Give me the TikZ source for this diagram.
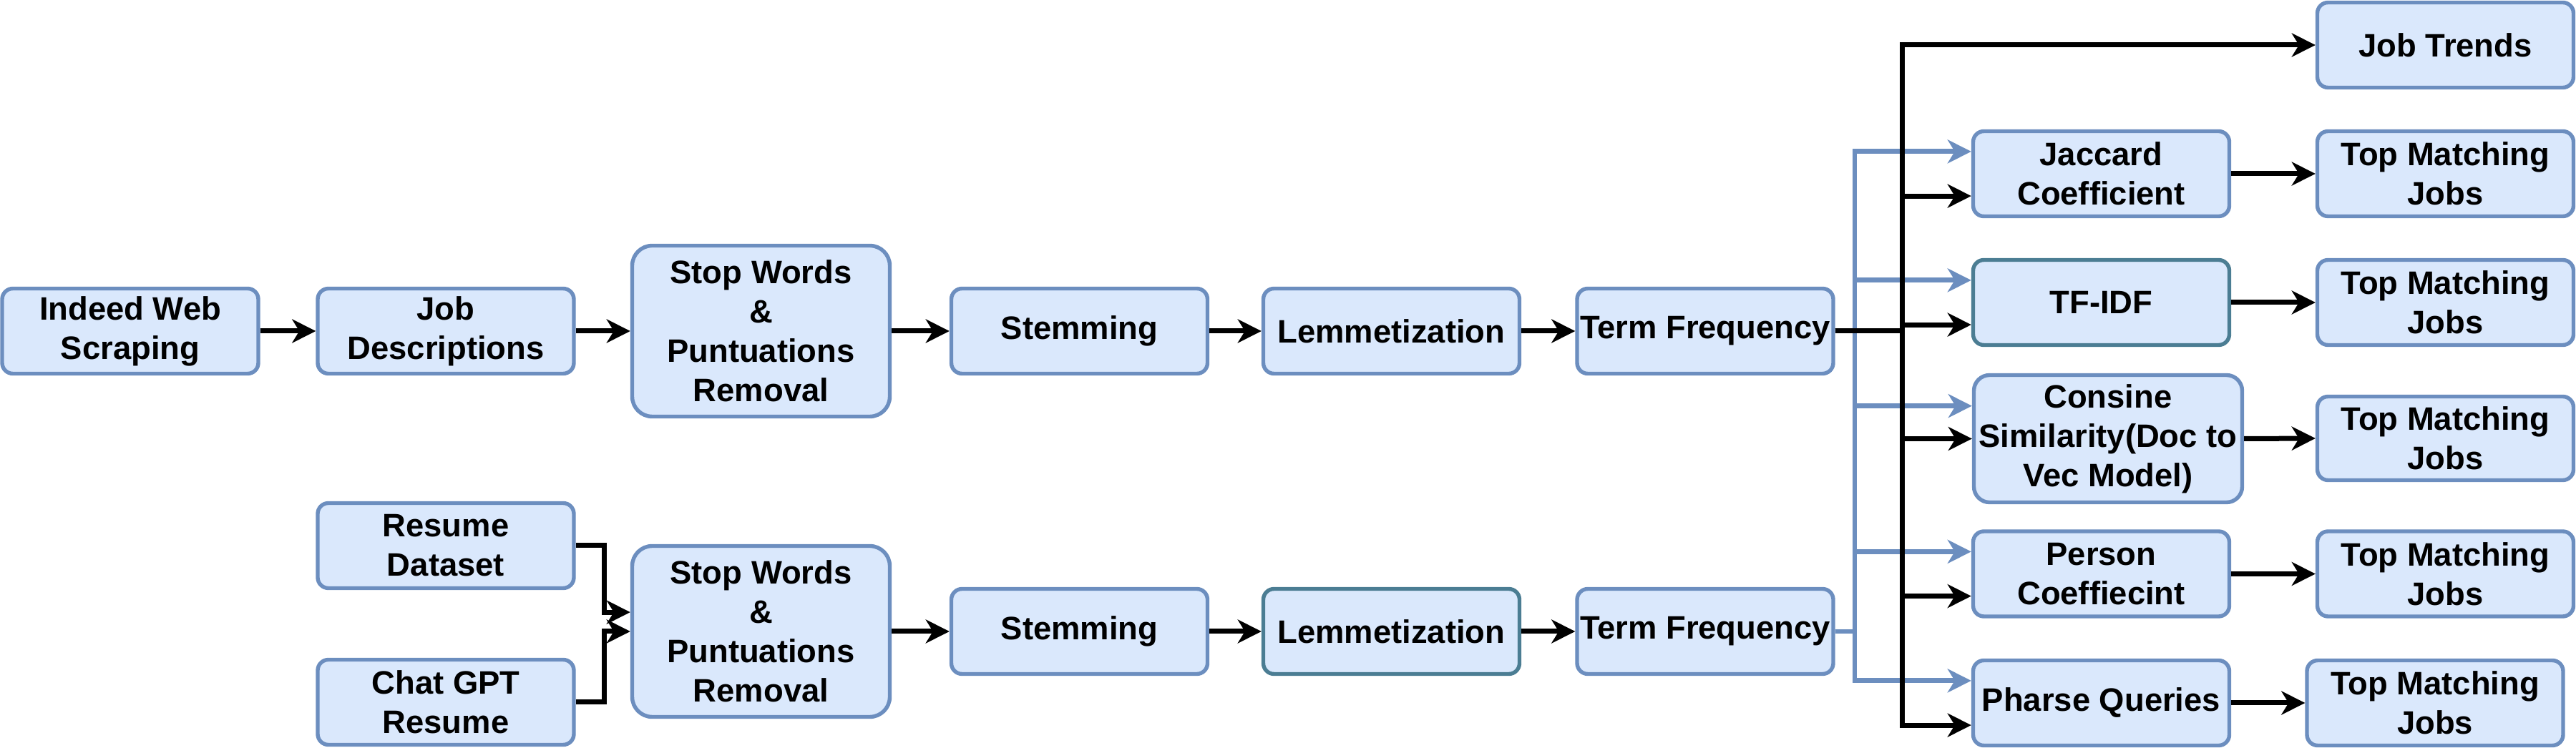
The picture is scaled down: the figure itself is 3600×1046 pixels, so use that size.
\documentclass[tikz,border=0pt]{standalone}
\usepackage{fontspec}
\setmainfont{Liberation Sans}
\usetikzlibrary{arrows.meta,calc}
\definecolor{bfill}{HTML}{DAE8FC}
\definecolor{bline}{HTML}{6C8EBF}
\definecolor{tline}{HTML}{4B7D93}
\begin{document}
\begin{tikzpicture}[x=0.25pt,y=-0.25pt,
  box/.style={draw=bline, fill=bfill, line width=1.35pt, rounded corners=3.75pt,
    minimum width=89.5pt, minimum height=29.75pt, inner sep=0pt, align=center,
    font=\fontsize{11.35}{13.75}\selectfont\bfseries},
  tall/.style={minimum width=90pt, minimum height=59.75pt, rounded corners=7pt},
  tealbox/.style={draw=tline},
  blk/.style={draw=black, line width=1.75pt, -{Stealth[length=8.25pt,width=8.25pt,inset=2.5pt]}},
  blu/.style={draw=bline, line width=1.7pt, -{Stealth[length=8.25pt,width=8.25pt,inset=2.5pt]}}]

\useasboundingbox (0,0) rectangle (3600,1046);

% top pipeline
\node[box] (iws) at (182,463) {Indeed Web\\Scraping};
\node[box] (jd) at (623,463) {Job\\Descriptions};
\node[box,tall] (sw1) at (1063.5,463) {Stop Words\\\&\\Puntuations\\Removal};
\node[box] (st1) at (1508.5,463) {Stemming};
\node[box] (lm1) at (1944.5,463) {Lemmetization};
\node[box] (tf1) at (2383,463) {Term Frequency};

% bottom pipeline
\node[box] (rd) at (623,763) {Resume\\Dataset};
\node[box] (cg) at (623,982) {Chat GPT\\Resume};
\node[box,tall] (sw2) at (1063.5,883) {Stop Words\\\&\\Puntuations\\Removal};
\node[box] (st2) at (1508.5,883) {Stemming};
\node[box,tealbox] (lm2) at (1944.5,883) {Lemmetization};
\node[box] (tf2) at (2383,883) {Term Frequency};

% methods
\node[box] (jt) at (3417.5,63) {Job Trends};
\node[box] (jc) at (2936.5,243) {Jaccard\\Coefficient};
\node[box] (tm1) at (3417.5,243) {Top Matching\\Jobs};
\node[box,tealbox] (tfidf) at (2936.5,423) {TF-IDF};
\node[box] (tm2) at (3417.5,423) {Top Matching\\Jobs};
\node[box,minimum width=93.75pt,minimum height=44.5pt,rounded corners=5.5pt] (cs) at (2946,613.5) {Consine\\Similarity(Doc to\\Vec Model)};
\node[box,minimum height=29.25pt] (tm3) at (3417.5,613) {Top Matching\\Jobs};
\node[box] (pc) at (2936.5,802.5) {Person\\Coeffiecint};
\node[box] (tm4) at (3417.5,802.5) {Top Matching\\Jobs};
\node[box] (pq) at (2936.5,983) {Pharse Queries};
\node[box] (tm5) at (3403,983) {Top Matching\\Jobs};

\coordinate (jx) at (844,0);
\coordinate (bx) at (2658,0);
\coordinate (ux) at (2592,0);

% pipeline arrows
\draw[blk] (iws.east) -- (jd.west);
\draw[blk] (jd.east) -- (sw1.west);
\draw[blk] (sw1.east) -- (st1.west);
\draw[blk] (st1.east) -- (lm1.west);
\draw[blk] (lm1.east) -- (tf1.west);
\draw[blk] (rd.east) -- (rd.east -| jx) |- ($(sw2.north west)!0.39!(sw2.south west)$);
\draw[blk] (cg.east) -- (cg.east -| jx) |- (sw2.west);
\draw[blk] (sw2.east) -- (st2.west);
\draw[blk] (st2.east) -- (lm2.west);
\draw[blk] (lm2.east) -- (tf2.west);

% blue branches from bottom term frequency
\draw[blu] (tf2.east) -- (tf2.east -| ux) |- ($(jc.north west)!0.25!(jc.south west)$);
\draw[blu] (tf2.east) -- (tf2.east -| ux) |- ($(tfidf.north west)!0.25!(tfidf.south west)$);
\draw[blu] (tf2.east) -- (tf2.east -| ux) |- ($(cs.north west)!0.25!(cs.south west)$);
\draw[blu] (tf2.east) -- (tf2.east -| ux) |- ($(pc.north west)!0.25!(pc.south west)$);
\draw[blu] (tf2.east) -- (tf2.east -| ux) |- ($(pq.north west)!0.25!(pq.south west)$);

% black branches from top term frequency
\draw[blk] (tf1.east) -- (tf1.east -| bx) |- (jt.west);
\draw[blk] (tf1.east) -- (tf1.east -| bx) |- ($(jc.north west)!0.75!(jc.south west)$);
\draw[blk] (tf1.east) -- (tf1.east -| bx) |- ($(tfidf.north west)!0.75!(tfidf.south west)$);
\draw[blk] (tf1.east) -- (tf1.east -| bx) |- (cs.west);
\draw[blk] (tf1.east) -- (tf1.east -| bx) |- ($(pc.north west)!0.75!(pc.south west)$);
\draw[blk] (tf1.east) -- (tf1.east -| bx) |- ($(pq.north west)!0.75!(pq.south west)$);

% results
\draw[blk] (jc.east) -- (tm1.west);
\draw[blk] (tfidf.east) -- (tm2.west);
\draw[blk] (cs.east) -- (tm3.west);
\draw[blk] (pc.east) -- (tm4.west);
\draw[blk] (pq.east) -- (tm5.west);
\end{tikzpicture}
\end{document}
